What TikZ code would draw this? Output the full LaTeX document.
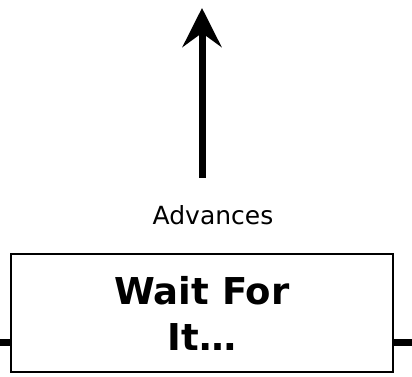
\documentclass[tikz,border=0pt]{standalone}
\usepackage{fontspec}
\setmainfont{DejaVu Sans}
\usepackage{tikz}
\usetikzlibrary{
  arrows.meta,
  positioning,
  calc
}

\begin{document}
\begin{tikzpicture}[
    x=1pt, y=1pt,
    every node/.style={align=center},
    waitbox/.style={
      rectangle, draw, line width=2pt,
      minimum width=382pt, minimum height=118pt,
      inner sep=0pt, fill=white,
      font=\fontsize{37}{46}\selectfont\bfseries
    },
    caption/.style={font=\fontsize{25}{30}\selectfont, anchor=base},
    advarrow/.style={-{Stealth[length=39pt, width=39pt, inset=14pt]}, line width=7pt},
    stub/.style={line width=7pt},
  ]
  \useasboundingbox (0,0) rectangle (412,377);

  % --- Nodes ---
  \node[waitbox] (wait) at (202,64) {Wait For\\It…};
  \node[caption] (advances) at ($ (wait.north) + (11pt,28pt) $) {Advances};

  % --- Loose ends ---
  \coordinate (arrowfoot) at (202,199);
  \coordinate (arrowtip) at (202,369);
  \coordinate (leftend) at (0,34);
  \coordinate (rightend) at (412,34);

  % --- Arrows ---
  \draw[advarrow] (arrowfoot) -- (arrowtip);
  \draw[stub] (leftend) -- (leftend -| wait.west);
  \draw[stub] (wait.east |- rightend) -- (rightend);
\end{tikzpicture}
\end{document}
